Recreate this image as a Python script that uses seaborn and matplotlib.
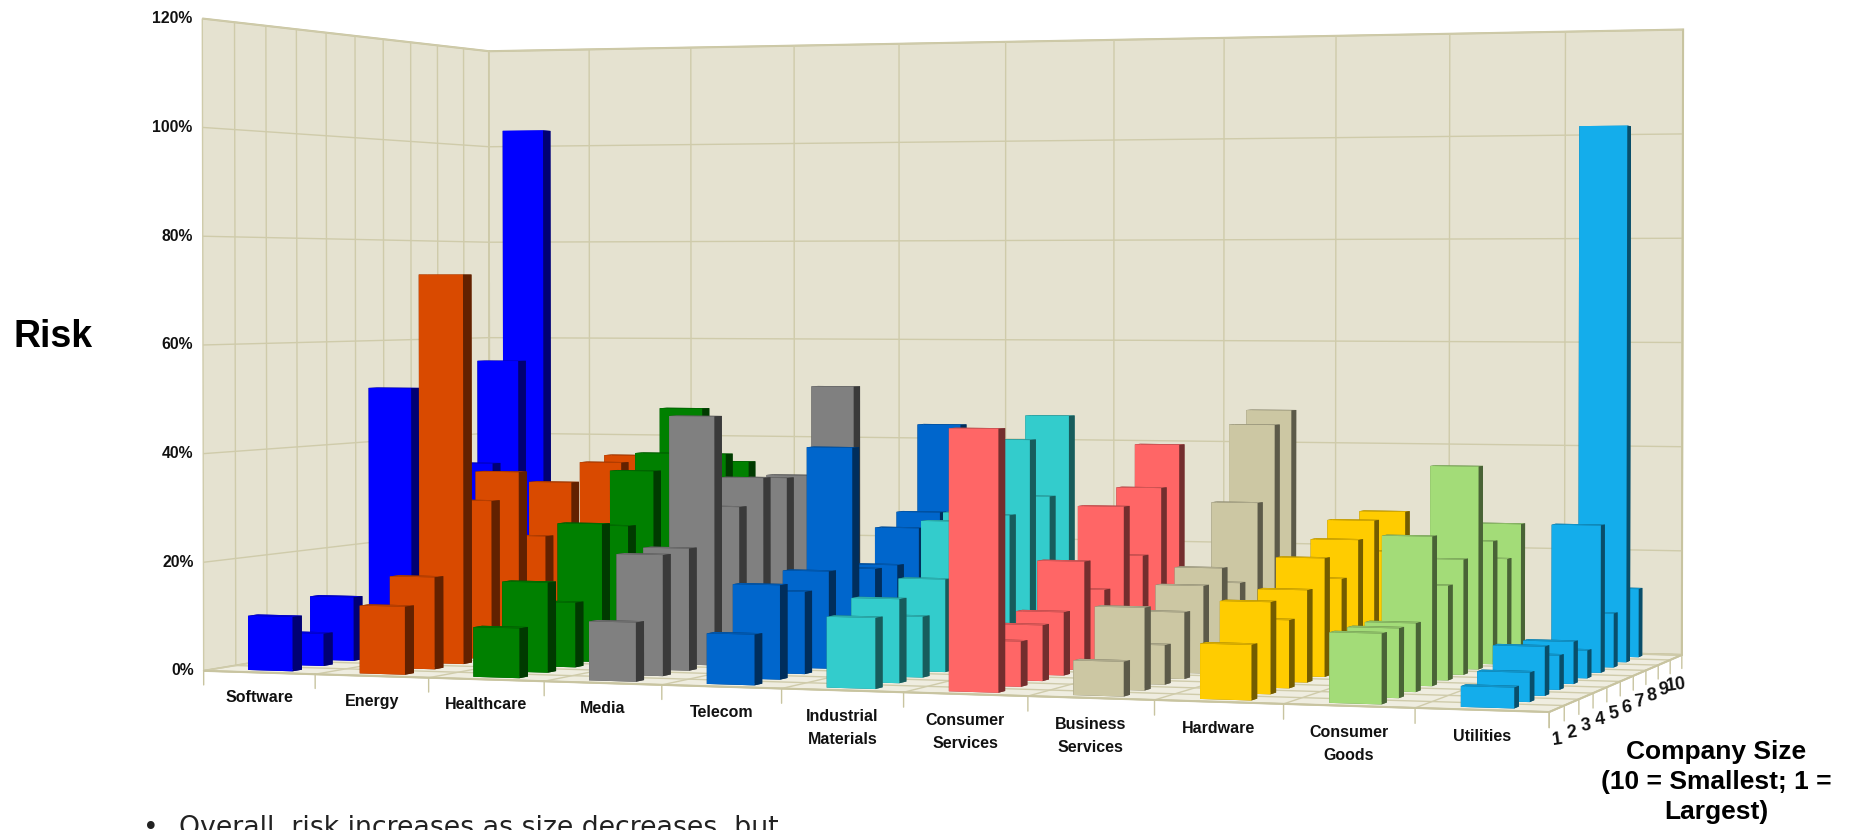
import numpy as np
import pandas as pd
import seaborn as sns
import matplotlib
matplotlib.use("Agg")
import matplotlib.pyplot as plt
from matplotlib.colors import to_rgb
from mpl_toolkits.mplot3d import proj3d

sectors = ["Software", "Energy", "Healthcare", "Media", "Telecom", "Industrial\nMaterials",
           "Consumer\nServices", "Business\nServices", "Hardware", "Consumer\nGoods", "Utilities"]
sizes = [1, 2, 3, 4, 5, 6, 7, 8, 9, 10]
risk_software = [10, 6, 12, 5, 51, 20, 15, 35, 55.5, 103]
risk_energy = [12.4, 17, 73, 30, 35, 22, 32, 20, 35, 36]
risk_healthcare = [9, 16.5, 12, 26, 25, 35, 38, 46.5, 37, 35]
risk_media = [10.6, 22, 22.5, 46.5, 29, 34, 33.5, 33.5, 30, 50.5]
risk_telecom = [9, 17, 15, 18, 40.5, 17, 17, 23.5, 26, 43]
risk_industrial = [12.5, 15, 11, 17, 27, 28, 27, 41, 29.5, 45]
risk_consumer_services = [46, 8, 10, 11.5, 20, 14, 29, 19, 31.5, 39.5]
risk_business = [6, 14.5, 7, 12, 16, 18.5, 15, 29.5, 44, 46.5]
risk_hardware = [9.5, 16, 12, 16.5, 21.5, 17, 23.5, 26.5, 20, 27]
risk_consumer_goods = [12, 12, 12, 26.5, 17, 21, 37.5, 23, 19, 25]
risk_utilities = [3.5, 5, 8.5, 6, 7.5, 5, 27, 10, 101, 13]
risk_rows = [risk_software, risk_energy, risk_healthcare, risk_media, risk_telecom, risk_industrial,
             risk_consumer_services, risk_business, risk_hardware, risk_consumer_goods, risk_utilities]
sector_colors = ["#0000FF", "#D94A00", "#008000", "#808080", "#0066CC", "#33CCCC",
                 "#FF6666", "#CCC7A3", "#FFCC00", "#A3DC78", "#14ADEB"]
z_ticks = [0, 20, 40, 60, 80, 100, 120]

sns.set_theme(style="white")
plt.rcParams["font.family"] = ["Liberation Sans", "DejaVu Sans"]
palette = sns.color_palette(sector_colors)

W, H = 1852, 830
fig = plt.figure(figsize=(W / 100, H / 100), dpi=100, facecolor="white")
focal = 0.54
S = 1575
cx, cy = 937, 465
ax = fig.add_axes([(cx - S / 2) / W, (cy - S / 2) / H, S / W, S / H], projection="3d", computed_zorder=False)
ax.patch.set_alpha(0)
ax.set_box_aspect((2.07, 1.03, 0.99))
ax.set_proj_type("persp", focal_length=focal)
ax.view_init(elev=0.73, azim=-71)
ax.set_xlim(0, len(sectors), view_margin=0)
ax.set_ylim(0, len(sizes), view_margin=0)
ax.set_zlim(0, 120, view_margin=0)

grid_c = "#CFCBAA"
wall_c = "#E5E2D0"
floor_c = "#EFEDE0"
ax.set_xticks(range(len(sectors) + 1))
ax.set_yticks(range(len(sizes) + 1))
ax.set_zticks(z_ticks)
ax.set_xticklabels([])
ax.set_yticklabels([])
ax.set_zticklabels([])
ax.xaxis.set_pane_color(wall_c)
ax.yaxis.set_pane_color(wall_c)
ax.zaxis.set_pane_color(floor_c)
for axis in (ax.xaxis, ax.yaxis, ax.zaxis):
    axis.pane.set_edgecolor("#C8C4A0")
    axis.pane.set_linewidth(1.5)
    axis.line.set_color("#C8C4A0")
    axis.line.set_linewidth(1.2)
    axis._axinfo["grid"]["color"] = grid_c
    axis._axinfo["grid"]["linewidth"] = 1.0
    axis._axinfo["tick"]["inward_factor"] = 0
    axis._axinfo["tick"]["outward_factor"] = 0

df = pd.DataFrame(risk_rows, index=sectors, columns=sizes)
bar_w, bar_d = 0.40, 0.30
order = 0
for j in range(len(sizes) - 1, -1, -1):
    for i, sec in enumerate(sectors):
        rgb = np.array(to_rgb(palette[i]))
        faces = [rgb * 0.6, rgb * 0.85, rgb, rgb * 0.5, rgb * 0.5, rgb * 0.45]
        order += 1
        ax.bar3d(i + 0.5 - bar_w / 2, j + 0.5 - bar_d / 2, 0, bar_w, bar_d, df.iloc[i, j],
                 color=faces, shade=False, linewidth=0, zorder=10 + order)


def label3d(x, y, z, s, **kw):
    px, py, _ = proj3d.proj_transform(x, y, z, ax.get_proj())
    return ax.text2D(px, py, s, transform=ax.transData, zorder=1000, color="#111111", fontweight="bold", **kw)


for i in range(len(sectors) + 1):
    ax.plot([i, i], [0, 0], [0, -2.6], color="#C8C4A0", lw=1, zorder=5)
for j in range(len(sizes) + 1):
    ax.plot([len(sectors)] * 2, [j, j], [0, -2.6], color="#C8C4A0", lw=1, zorder=5)
for i, sec in enumerate(sectors):
    label3d(i + 0.5, 0, -3.2, sec, ha="center", va="top", fontsize=11.5, linespacing=1.7)
for j, s in enumerate(sizes):
    label3d(len(sectors), j + 0.5, -5.2, str(s), ha="center", va="center", fontsize=13, rotation=8)
for z in z_ticks:
    label3d(-0.09, 0, z, f"{z}%", ha="right", va="center", fontsize=11.3)

fig.text(53 / W, 1 - 337 / H, "Risk", fontsize=27, fontweight="bold", color="black", ha="center", va="center")
fig.text(1716 / W, 1 - 782 / H, "Company Size\n(10 = Smallest; 1 =\nLargest)", fontsize=19, fontweight="bold",
         color="black", ha="center", va="center", linespacing=1.3)
fig.text(143 / W, 1 - 835 / H, "•", fontsize=19, color="#222222", family="DejaVu Sans", ha="left", va="baseline")
fig.text(179 / W, 1 - 835 / H, "Overall, risk increases as size decreases, but", fontsize=19.3, color="#222222",
         family="DejaVu Sans", ha="left", va="baseline")

fig.savefig("out.png", dpi=100)
